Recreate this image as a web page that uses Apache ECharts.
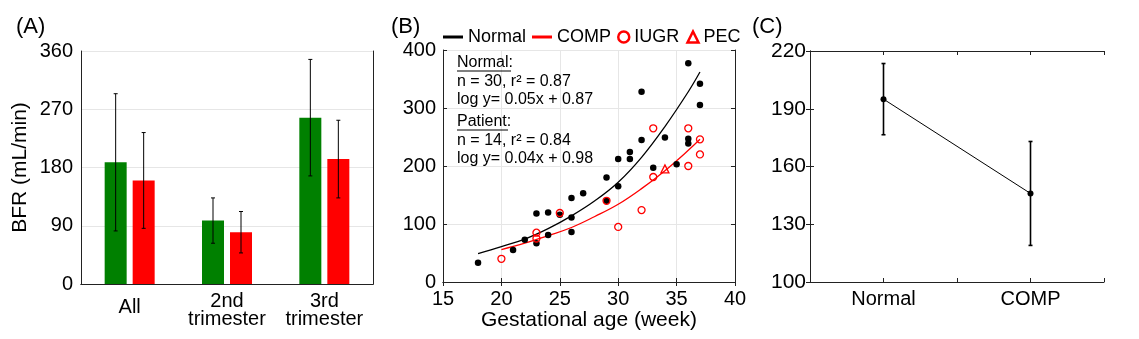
<!DOCTYPE html>
<html>
<head>
<meta charset="utf-8">
<script src="https://cdn.jsdelivr.net/npm/echarts@6/dist/echarts.min.js"></script>
<style>
  html, body { margin: 0; padding: 0; background: #fff; }
  #chart { width: 1139px; height: 339px; }
</style>
</head>
<body>
<div id="chart"></div>
<script>
var FONT = '"Liberation Sans", Arial, sans-serif';

// (A) BFR by group, mean and error
var aCategories = ['All', '2nd\ntrimester', '3rd\ntrimester'];
var aNormalMean = [188, 98, 257];
var aNormalErr = [106, 35, 90];
var aCompMean = [160, 80, 193];
var aCompErr = [74, 32, 60];

// (B) BFR vs gestational age
var normalWeek = [18, 21, 22, 23, 23, 24, 24, 25, 26, 26, 26, 27, 29, 29, 30, 30, 31, 31, 32, 32, 33, 34, 35, 36, 36, 36, 37, 37];
var normalBFR = [33, 55, 73, 118, 67, 120, 81, 116, 145, 111, 86, 153, 180, 140, 212, 165, 224, 212, 328, 245, 197, 249, 203, 377, 247, 239, 342, 305];
var iugrWeek = [20, 23, 23, 25, 29, 30, 32, 33, 33, 36, 36, 37, 37];
var iugrBFR = [40, 85, 75, 119, 140, 95, 124, 265, 181, 265, 200, 246, 220];
var pecWeek = [34];
var pecBFR = [195];
// fitted curves
var fitNormalWeek = [18, 20, 22, 24, 26, 28, 30, 32, 34, 36, 37];
var fitNormalBFR = [49, 61, 74, 92, 114, 140, 172, 215, 268, 328, 362];
var fitCompWeek = [20, 22, 24, 26, 28, 30, 32, 34, 36, 37];
var fitCompBFR = [56, 67, 80, 94, 113, 134, 161, 192, 227, 246];

// (C) group means
var cCategories = ['Normal', 'COMP'];
var cMean = [195, 146];
var cErr = [18.5, 27];
var cTicks = [100, 130, 160, 190, 220];

var GREEN = '#008000';
var RED = '#ff0000';
var AXIS = '#222';
var GRID = '#e6e6e6';
var BAR_W = 22, BAR_GAP = 6;

function zip(xs, ys) {
  return xs.map(function (x, i) { return [x, ys[i]]; });
}

function errData(xs, mean, err) {
  return mean.map(function (m, i) { return [xs[i], m - err[i], m + err[i]]; });
}

function errRender(shift, cap, width) {
  return function (params, api) {
    var hi = api.coord([api.value(0), api.value(2)]);
    var lo = api.coord([api.value(0), api.value(1)]);
    var x = hi[0] + shift;
    var st = { stroke: '#000', lineWidth: width };
    return {
      type: 'group',
      children: [
        { type: 'line', shape: { x1: x, y1: hi[1], x2: x, y2: lo[1] }, style: st },
        { type: 'line', shape: { x1: x - cap, y1: hi[1], x2: x + cap, y2: hi[1] }, style: st },
        { type: 'line', shape: { x1: x - cap, y1: lo[1], x2: x + cap, y2: lo[1] }, style: st }
      ]
    };
  };
}

var tick = { inside: true, length: 4, lineStyle: { color: AXIS } };
var line = { show: true, lineStyle: { color: AXIS, width: 1 } };
var lbl = { color: '#000', fontSize: 20, fontFamily: FONT };

function mirrorX(base) {
  return Object.assign({}, base, {
    position: 'top', axisLabel: { show: false }, splitLine: { show: false }, name: ''
  });
}
function mirrorY(base) {
  return Object.assign({}, base, {
    position: 'right', axisLabel: { show: false }, splitLine: { show: false }, name: ''
  });
}

var xA = {
  type: 'category', gridIndex: 0, data: aCategories,
  axisLine: line, axisTick: Object.assign({ alignWithLabel: true }, tick),
  axisLabel: Object.assign({}, lbl, {
    margin: 8, lineHeight: 18, interval: 0, hideOverlap: false,
    formatter: function (v) { return v.indexOf('\n') < 0 ? '{one|' + v + '}' : v; },
    rich: { one: { fontSize: 20, fontFamily: FONT, color: '#000', lineHeight: 31 } }
  }),
  splitLine: { show: false }
};
var yA = {
  type: 'value', gridIndex: 0, min: 0, max: 360, interval: 90,
  axisLine: line, axisTick: tick,
  axisLabel: Object.assign({ margin: 8 }, lbl),
  splitLine: { show: true, lineStyle: { color: GRID } },
  name: 'BFR (mL/min)', nameLocation: 'middle', nameGap: 50, nameMoveOverlap: false,
  nameTextStyle: { fontSize: 21, fontFamily: FONT, color: '#000' }
};
var xB = {
  type: 'value', gridIndex: 1, min: 15, max: 40, interval: 5,
  axisLine: line, axisTick: tick,
  axisLabel: Object.assign({ margin: 7 }, lbl),
  splitLine: { show: true, lineStyle: { color: GRID } },
  name: 'Gestational age (week)', nameLocation: 'middle', nameGap: 28, nameMoveOverlap: false,
  nameTextStyle: { fontSize: 21, fontFamily: FONT, color: '#000' }
};
var yB = {
  type: 'value', gridIndex: 1, min: 0, max: 400, interval: 100,
  axisLine: line, axisTick: tick,
  axisLabel: Object.assign({ margin: 7 }, lbl),
  splitLine: { show: true, lineStyle: { color: GRID } }
};
var xC = {
  type: 'value', gridIndex: 2, min: 0, max: 2, interval: 0.5,
  axisLine: line, axisTick: tick,
  axisLabel: Object.assign({}, lbl, {
    margin: 7,
    formatter: function (v) {
      var i = v - 0.5;
      return cCategories[i] !== undefined ? cCategories[i] : '';
    }
  }),
  splitLine: { show: false }
};
var yC = {
  type: 'value', gridIndex: 2, min: 100, max: 220,
  axisLine: line,
  axisTick: Object.assign({ customValues: cTicks }, tick),
  axisLabel: Object.assign({ margin: 4, customValues: cTicks }, lbl, { fontSize: 21 }),
  splitLine: { show: false }
};

var option = {
  animation: false,
  backgroundColor: '#fff',
  textStyle: { fontFamily: FONT },
  grid: [
    { left: 81, top: 51, width: 292, height: 233 },
    { left: 443, top: 50, width: 292, height: 232 },
    { left: 810, top: 51, width: 294, height: 231 }
  ],
  xAxis: [xA, mirrorX(xA), xB, mirrorX(xB), xC, mirrorX(xC)],
  yAxis: [yA, mirrorY(yA), yB, mirrorY(yB), yC, mirrorY(yC)],
  legend: [
    {
      left: 443, top: 28, padding: 0, itemWidth: 20, itemHeight: 3, itemGap: 6,
      textStyle: { fontSize: 18, fontFamily: FONT, color: '#000' },
      data: [{ name: 'Normal', icon: 'rect' }, { name: 'COMP', icon: 'rect' }]
    },
    {
      left: 617, top: 28, padding: 0, itemWidth: 11, itemHeight: 11, itemGap: 7,
      textStyle: { fontSize: 18, fontFamily: FONT, color: '#000' },
      data: [
        { name: 'IUGR', icon: 'circle', itemStyle: { color: '#fff', borderColor: RED, borderWidth: 2.5 } },
        { name: 'PEC', icon: 'triangle', itemStyle: { color: '#fff', borderColor: RED, borderWidth: 2.5 } }
      ]
    }
  ],
  graphic: [
    { type: 'text', x: 16, y: 27, style: { text: '(A)', fontSize: 22, fontFamily: FONT, fill: '#000', verticalAlign: 'middle' } },
    { type: 'text', x: 391, y: 27, style: { text: '(B)', fontSize: 22, fontFamily: FONT, fill: '#000', verticalAlign: 'middle' } },
    { type: 'text', x: 752, y: 27, style: { text: '(C)', fontSize: 22, fontFamily: FONT, fill: '#000', verticalAlign: 'middle' } },
    { type: 'text', x: 457, y: 63, z: 10, style: { text: 'Normal:', fontSize: 16, fontFamily: FONT, fill: '#000', verticalAlign: 'middle' } },
    { type: 'line', z: 10, shape: { x1: 457, y1: 71, x2: 511, y2: 71 }, style: { stroke: '#000', lineWidth: 1 } },
    { type: 'text', x: 457, y: 82, z: 10, style: { text: 'n = 30, r\u00b2 = 0.87', fontSize: 16, fontFamily: FONT, fill: '#000', verticalAlign: 'middle' } },
    { type: 'text', x: 457, y: 100, z: 10, style: { text: 'log y= 0.05x + 0.87', fontSize: 16, fontFamily: FONT, fill: '#000', verticalAlign: 'middle' } },
    { type: 'text', x: 457, y: 122, z: 10, style: { text: 'Patient:', fontSize: 16, fontFamily: FONT, fill: '#000', verticalAlign: 'middle' } },
    { type: 'line', z: 10, shape: { x1: 457, y1: 130, x2: 508, y2: 130 }, style: { stroke: '#000', lineWidth: 1 } },
    { type: 'text', x: 457, y: 141, z: 10, style: { text: 'n = 14, r\u00b2 = 0.84', fontSize: 16, fontFamily: FONT, fill: '#000', verticalAlign: 'middle' } },
    { type: 'text', x: 457, y: 159, z: 10, style: { text: 'log y= 0.04x + 0.98', fontSize: 16, fontFamily: FONT, fill: '#000', verticalAlign: 'middle' } }
  ],
  series: [
    // (A)
    { name: 'Normal A', type: 'bar', xAxisIndex: 0, yAxisIndex: 0, data: aNormalMean,
      barWidth: BAR_W, barGap: (BAR_GAP / BAR_W * 100) + '%', itemStyle: { color: GREEN } },
    { name: 'COMP A', type: 'bar', xAxisIndex: 0, yAxisIndex: 0, data: aCompMean,
      barWidth: BAR_W, itemStyle: { color: RED } },
    { type: 'custom', xAxisIndex: 0, yAxisIndex: 0, z: 5,
      data: errData([0, 1, 2], aNormalMean, aNormalErr), encode: { x: 0, y: [1, 2] },
      renderItem: errRender(-(BAR_W + BAR_GAP) / 2, 2, 1) },
    { type: 'custom', xAxisIndex: 0, yAxisIndex: 0, z: 5,
      data: errData([0, 1, 2], aCompMean, aCompErr), encode: { x: 0, y: [1, 2] },
      renderItem: errRender((BAR_W + BAR_GAP) / 2, 2, 1) },
    // (B)
    { name: 'Normal', type: 'line', xAxisIndex: 2, yAxisIndex: 2, z: 3,
      data: zip(fitNormalWeek, fitNormalBFR), smooth: 0.4, showSymbol: false,
      itemStyle: { color: '#000' }, lineStyle: { color: '#000', width: 1.3 } },
    { name: 'COMP', type: 'line', xAxisIndex: 2, yAxisIndex: 2, z: 3,
      data: zip(fitCompWeek, fitCompBFR), smooth: 0.4, showSymbol: false,
      itemStyle: { color: RED }, lineStyle: { color: RED, width: 1.3 } },
    { name: 'Normal data', type: 'scatter', xAxisIndex: 2, yAxisIndex: 2, z: 4,
      data: zip(normalWeek, normalBFR), symbol: 'circle', symbolSize: 6.5,
      itemStyle: { color: '#000', opacity: 1 } },
    { name: 'IUGR', type: 'scatter', xAxisIndex: 2, yAxisIndex: 2, z: 5,
      data: zip(iugrWeek, iugrBFR), symbol: 'circle', symbolSize: 7,
      itemStyle: { color: 'rgba(255,255,255,0)', borderColor: RED, borderWidth: 1.3, opacity: 1 } },
    { name: 'PEC', type: 'scatter', xAxisIndex: 2, yAxisIndex: 2, z: 5,
      data: zip(pecWeek, pecBFR), symbol: 'triangle', symbolSize: 8,
      itemStyle: { color: 'rgba(255,255,255,0)', borderColor: RED, borderWidth: 1.3, opacity: 1 } },
    // (C)
    { name: 'C mean', type: 'line', xAxisIndex: 4, yAxisIndex: 4, z: 4,
      data: cMean.map(function (m, i) { return [i + 0.5, m]; }),
      symbol: 'circle', symbolSize: 6, showSymbol: true,
      itemStyle: { color: '#000' }, lineStyle: { color: '#000', width: 1 } },
    { type: 'custom', xAxisIndex: 4, yAxisIndex: 4, z: 3,
      data: errData([0.5, 1.5], cMean, cErr), encode: { x: 0, y: [1, 2] },
      renderItem: errRender(0, 2, 1.6) }
  ]
};

var chart = echarts.init(document.getElementById('chart'));
chart.setOption(option);
</script>
</body>
</html>
